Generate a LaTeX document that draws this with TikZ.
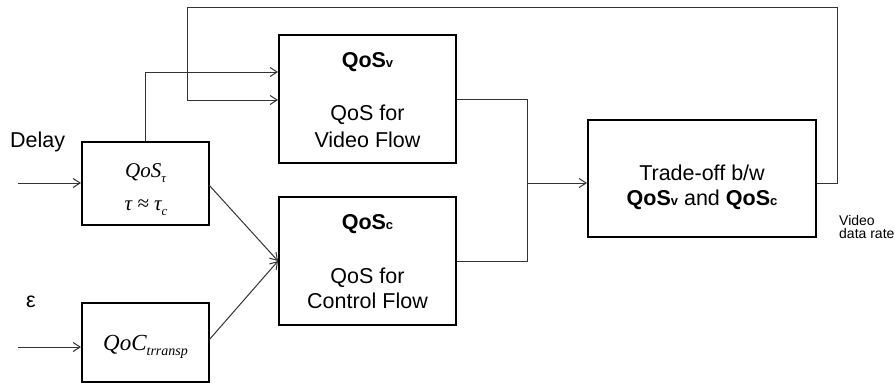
\documentclass[tikz,border=0pt]{standalone}
\usepackage{fontspec}
\setmainfont{Liberation Sans}
\newfontfamily\tms{Liberation Serif}
\usetikzlibrary{arrows.meta}
\tikzset{
  blk/.style={draw=black, line width=2pt, minimum width=#1, inner sep=0pt},
  conn/.style={draw=black!80, line width=1pt},
  arr/.style={conn, -{Straight Barb[length=7pt,width=9pt]}},
  txt/.style={inner sep=0pt, anchor=base, font=\fontsize{21.5}{26}\selectfont},
  mtxt/.style={inner sep=0pt, anchor=base, font=\tms\itshape\fontsize{21}{26}\selectfont},
  small/.style={inner sep=0pt, anchor=base west, font=\fontsize{14}{14}\selectfont},
}
\newcommand{\qsub}[1]{{\fontsize{13}{13}\selectfont #1}}
\newcommand{\msub}[1]{\raisebox{-5pt}{\fontsize{13}{13}\selectfont #1}}
\begin{document}
\begin{tikzpicture}[x=1pt,y=-1pt]
\useasboundingbox (0,0) rectangle (895,384);
% blocks
\node[blk=127pt, minimum height=83pt] (D) at (145.5,183.5) {};
\node[blk=127pt, minimum height=79pt] (C) at (145.5,342.5) {};
\node[blk=177pt, minimum height=128pt] (V) at (367.5,99) {};
\node[blk=177pt, minimum height=128pt] (K) at (367.5,261) {};
\node[blk=228pt, minimum height=117pt] (T) at (702,178.5) {};
% texts in blocks
\node[mtxt] (d1) at (145.5,177) {QoS\msub{τ}};
\node[mtxt] (d2) at (146,210) {τ ≈ τ\msub{c}};
\node[mtxt, font=\tms\itshape\fontsize{23}{26}\selectfont] (c1) at (145.5,350) {QoC\msub{\fontsize{14}{14}\selectfont trransp}};
\node[txt] (v1) at (367.5,67) {\textbf{QoS\qsub{v}}};
\node[txt] (v2) at (367.5,120) {QoS for};
\node[txt] (v3) at (367.5,147) {Video Flow};
\node[txt] (k1) at (367.5,229) {\textbf{QoS\qsub{c}}};
\node[txt] (k2) at (367.5,283) {QoS for};
\node[txt] (k3) at (367.5,308) {Control Flow};
\node[txt] (t1) at (702,180) {Trade-off b/w};
\node[txt] (t2) at (702,205) {\textbf{QoS\qsub{v}} and \textbf{QoS\qsub{c}}};
% outside labels
\node[txt, anchor=base west] (lDelay) at (10,147) {Delay};
\node[txt, anchor=base west] (lEps) at (26,307) {ε};
\node[small] (lv1) at (839,225) {Video};
\node[small] (lv2) at (839,238) {data rate};
% coordinates
\coordinate (in1) at (18,183);
\coordinate (in2) at (18,347);
\coordinate (dup) at (145,72);
\coordinate (dout) at (209,185);
\coordinate (cout) at (209,340);
\coordinate (j) at (527,183);
\coordinate (fb1) at (837,7);
\coordinate (fb2) at (187,100);
% connectors
\draw[arr] (in1) -- (D.west |- in1);
\draw[arr] (in2) -- (C.west |- in2);
\draw[arr] (dout) -- (K.west);
\draw[arr] (cout) -- (K.west);
\draw[arr] (D.north -| dup) -- (dup) -- (V.west |- dup);
\draw[conn] (V.east) -| (j);
\draw[conn] (K.east) -| (j);
\draw[arr] (j) -- (T.west |- j);
\draw[arr] (T.east |- j) -| (fb1) -| (fb2) -- (V.west |- fb2);
\end{tikzpicture}
\end{document}
